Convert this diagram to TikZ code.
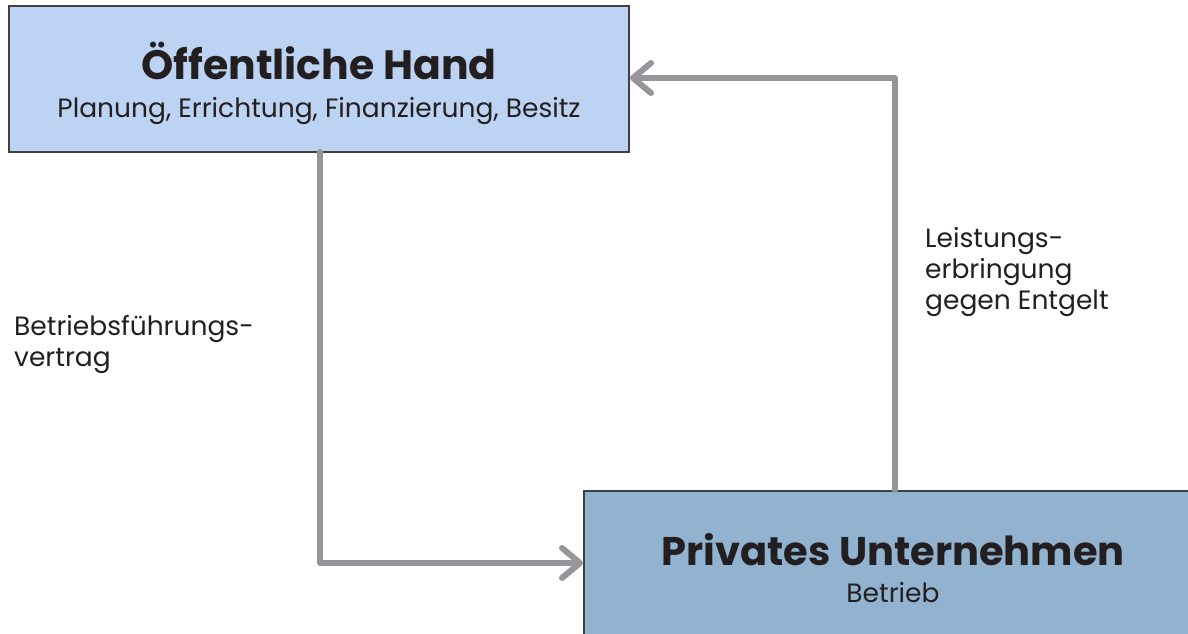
\documentclass[tikz,border=0pt]{standalone}
\usepackage{fontspec}
\setmainfont{Poppins}
\usetikzlibrary{arrows.meta}
\definecolor{boxA}{RGB}{189,211,243}
\definecolor{boxB}{RGB}{145,179,208}
\definecolor{edge}{RGB}{64,64,66}
\definecolor{txt}{RGB}{35,31,32}
\definecolor{conn}{RGB}{150,150,154}
\tikzset{
  x=1pt, y=-1pt,
  box/.style={draw=edge, line width=2pt, inner sep=0pt},
  conn/.style={draw=conn, line width=6pt, line cap=round, line join=round,
    -{Straight Barb[length=18pt, width=30pt, line cap=round, line join=round]}},
  title/.style={font=\fontsize{41}{46}\selectfont\bfseries, text=txt, anchor=base, inner sep=0pt},
  sub/.style={font=\fontsize{26.5}{30}\selectfont, text=txt, anchor=base, inner sep=0pt},
  lbl/.style={font=\fontsize{26.5}{31}\selectfont, text=txt, align=left, anchor=base west, inner sep=0pt}
}
\begin{document}
\begin{tikzpicture}
\useasboundingbox (0,0) rectangle (1188,634);
\path[box, fill=boxA] (9,6) rectangle (629,152);
\path[box, fill=boxB] (584,491) rectangle (1195,645);
\coordinate (topA) at (320,152);
\coordinate (leftB) at (583,563);
\coordinate (cornerA) at (320,563);
\coordinate (topB) at (895,490);
\coordinate (cornerB) at (895,78);
\coordinate (rightA) at (630,78);
\node[title] (t1) at (319,80) {Öffentliche Hand};
\node[sub] (s1) at (319,117) {Planung, Errichtung, Finanzierung, Besitz};
\node[title, font=\fontsize{40}{46}\selectfont\bfseries] (t2) at (893,565) {Privates Unternehmen};
\node[sub] (s2) at (893,602) {Betrieb};
\draw[conn] (topA) -- (cornerA) -- (leftB);
\draw[conn] (topB) -- (cornerB) -- (rightA);
\node[lbl] (l1) at (925,309) {Leistungs-\\erbringung\\gegen Entgelt};
\node[lbl] (l2) at (14,366) {Betriebsführungs-\\vertrag};
\end{tikzpicture}
\end{document}
